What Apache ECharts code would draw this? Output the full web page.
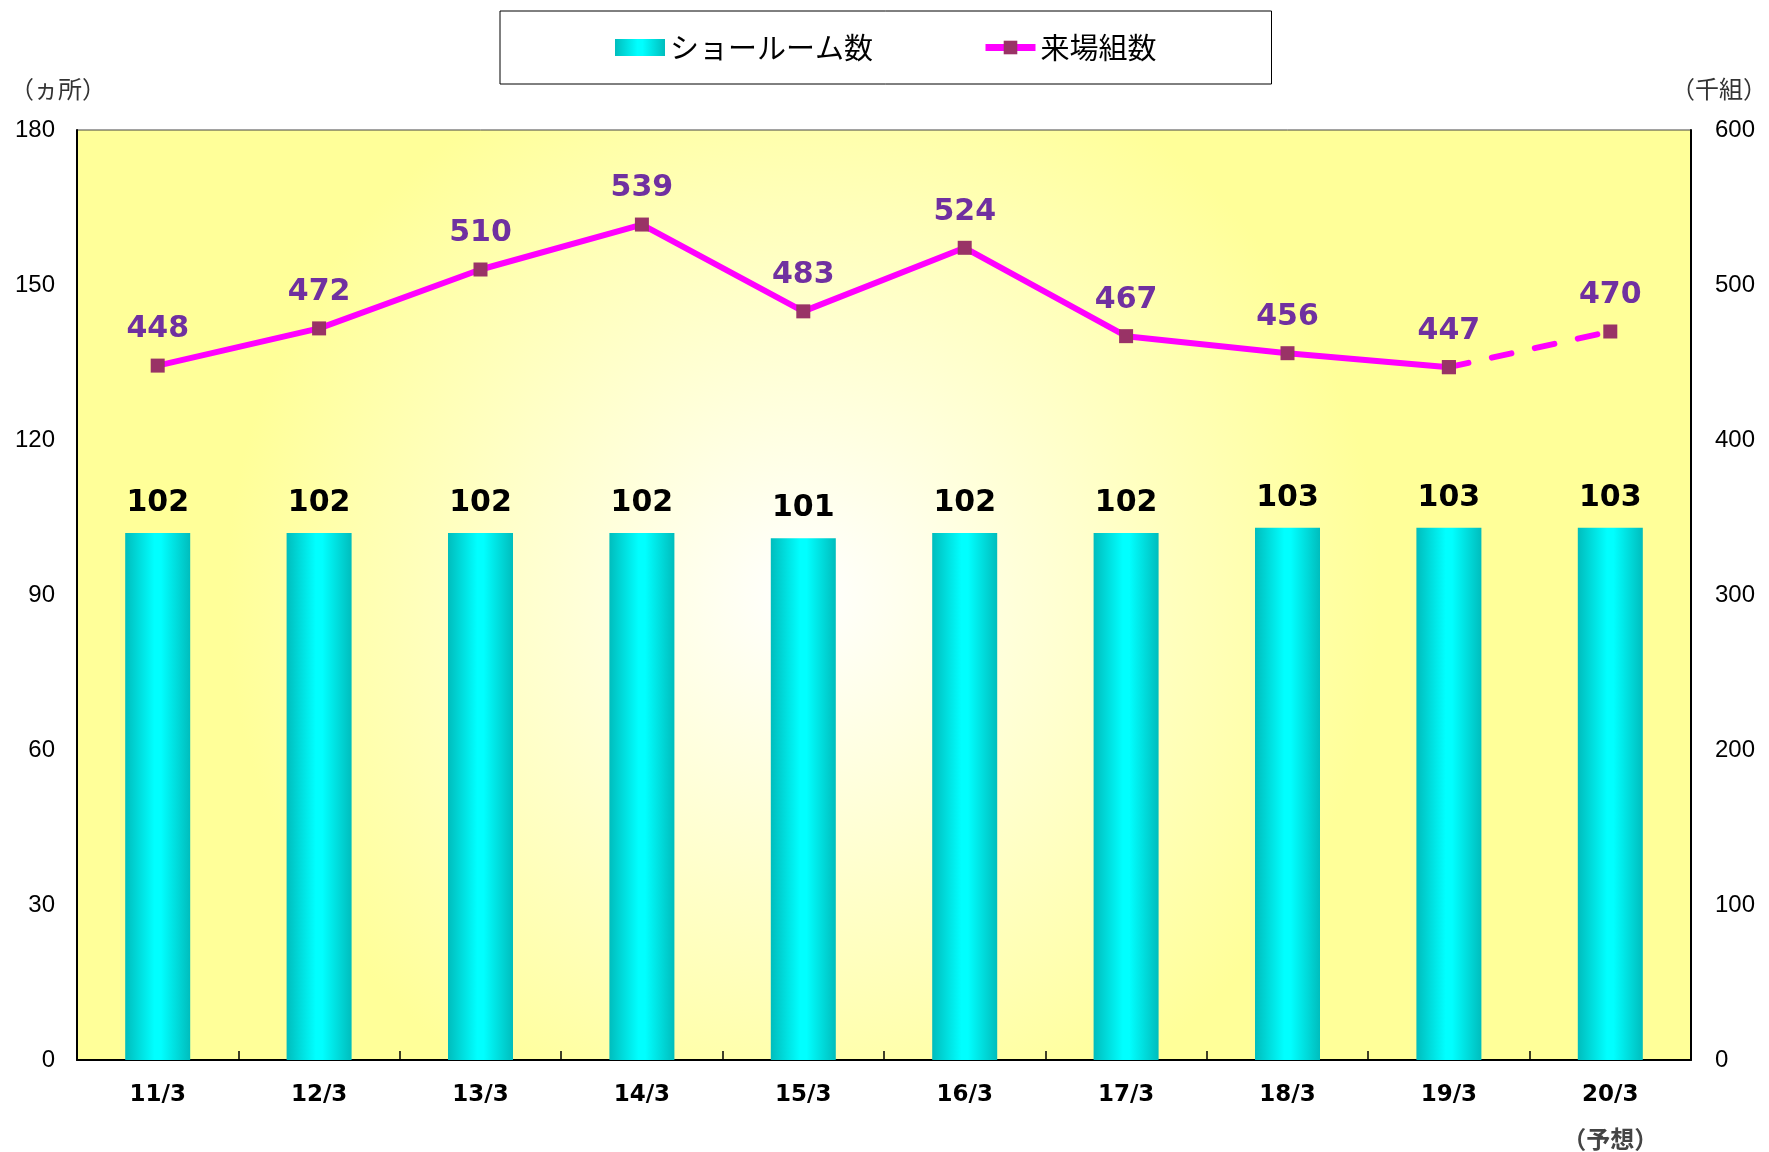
<!DOCTYPE html>
<html>
<head>
<meta charset="utf-8">
<script src="https://cdn.jsdelivr.net/npm/echarts@6/dist/echarts.min.js"></script>
<style>
  html, body { margin: 0; padding: 0; background: #fff; }
  #chart { width: 1769px; height: 1152px; }
</style>
</head>
<body>
<div id="chart"></div>
<script>
const categories = ['11/3', '12/3', '13/3', '14/3', '15/3', '16/3', '17/3', '18/3', '19/3', '20/3'];
const showrooms = [102, 102, 102, 102, 101, 102, 102, 103, 103, 103];
const visitors = [448, 472, 510, 539, 483, 524, 467, 456, 447, null];
const visitorsForecast = [null, null, null, null, null, null, null, null, 447, 470];
const leftTicks = { min: 0, max: 180, interval: 30 };
const rightTicks = { min: 0, max: 600, interval: 100 };

const jp = '"Noto Sans CJK JP", sans-serif';
const num = '"Liberation Sans", Arial, sans-serif';
const bold = '"DejaVu Sans", sans-serif';

const myChart = echarts.init(document.getElementById('chart'));

const barColor = new echarts.graphic.LinearGradient(0, 0, 1, 0, [
  { offset: 0, color: '#00BDBD' },
  { offset: 0.45, color: '#00FFFF' },
  { offset: 0.55, color: '#00FFFF' },
  { offset: 1, color: '#00BDBD' },
]);

const option = {
  animation: false,
  textStyle: { fontFamily: jp },
  legend: {
    left: 500,
    top: 11,
    padding: [22, 115, 22, 115],
    itemGap: 109,
    itemWidth: 50,
    itemHeight: 17,
    borderColor: '#000',
    borderWidth: 1,
    data: [
      { name: 'ショールーム数', icon: 'rect' },
      { name: '来場組数', lineStyle: { width: 7 } },
    ],
    textStyle: { fontFamily: jp, fontSize: 29, color: '#000' },
  },
  grid: {
    left: 77,
    right: 78,
    top: 130,
    bottom: 92,
    outerBoundsMode: 'none',
    show: true,
    borderColor: '#444',
    borderWidth: 1,
    backgroundColor: new echarts.graphic.RadialGradient(0.45, 0.5, 0.62, [
      { offset: 0, color: '#FFFFFF' },
      { offset: 1, color: '#FFFF99' },
    ]),
  },
  graphic: [
    { type: 'text', left: 10, top: 77, style: { text: '（ヵ所）', font: '24px ' + jp, fill: '#333' } },
    { type: 'text', right: 2, top: 77, style: { text: '（千組）', font: '24px ' + jp, fill: '#333' } },
  ],
  xAxis: {
    type: 'category',
    data: categories,
    axisLine: { lineStyle: { color: '#000', width: 2 } },
    axisTick: { show: true, inside: true, length: 9, lineStyle: { color: '#000', width: 1.5 } },
    axisLabel: {
      interval: 0,
      margin: 13,
      lineHeight: 44,
      fontFamily: bold,
      fontSize: 23,
      fontWeight: 'bold',
      color: '#000',
      formatter(v) {
        return v === '20/3' ? v + '\n{s|（予想）}' : v;
      },
      rich: {
        s: { fontFamily: jp, fontSize: 24, fontWeight: 'bold', color: '#444', lineHeight: 44 },
      },
    },
  },
  yAxis: [
    {
      type: 'value',
      min: leftTicks.min,
      max: leftTicks.max,
      interval: leftTicks.interval,
      splitLine: { show: false },
      axisLine: { show: true, lineStyle: { color: '#000', width: 2 } },
      axisTick: { show: false },
      axisLabel: { fontFamily: num, fontSize: 24, color: '#000', margin: 22 },
    },
    {
      type: 'value',
      min: rightTicks.min,
      max: rightTicks.max,
      interval: rightTicks.interval,
      splitLine: { show: false },
      axisLine: { show: true, lineStyle: { color: '#000', width: 2 } },
      axisTick: { show: false },
      axisLabel: { fontFamily: num, fontSize: 24, color: '#000', margin: 24 },
    },
  ],
  series: [
    {
      name: 'ショールーム数',
      type: 'bar',
      yAxisIndex: 0,
      data: showrooms,
      barWidth: 65,
      itemStyle: { color: barColor },
      label: {
        show: true,
        position: 'top',
        distance: 15,
        fontFamily: bold,
        fontSize: 30,
        fontWeight: 'bold',
        color: '#000',
      },
    },
    {
      name: '来場組数',
      type: 'line',
      yAxisIndex: 1,
      data: visitors,
      symbol: 'rect',
      symbolSize: 14,
      itemStyle: { color: '#993366' },
      lineStyle: { color: '#FF00FF', width: 6 },
      label: {
        show: true,
        position: 'top',
        distance: 14,
        fontFamily: bold,
        fontSize: 30,
        fontWeight: 'bold',
        color: '#7030A0',
      },
      z: 3,
    },
    {
      name: '来場組数予想',
      type: 'line',
      yAxisIndex: 1,
      data: visitorsForecast,
      symbol: 'rect',
      symbolSize: 14,
      itemStyle: { color: '#993366' },
      lineStyle: { color: '#FF00FF', width: 6, type: [20, 24], cap: 'round' },
      label: {
        show: true,
        position: 'top',
        distance: 14,
        fontFamily: bold,
        fontSize: 30,
        fontWeight: 'bold',
        color: '#7030A0',
        formatter(p) {
          return p.dataIndex === 9 ? p.value : '';
        },
      },
      z: 2,
    },
  ],
};

myChart.setOption(option);
</script>
</body>
</html>
